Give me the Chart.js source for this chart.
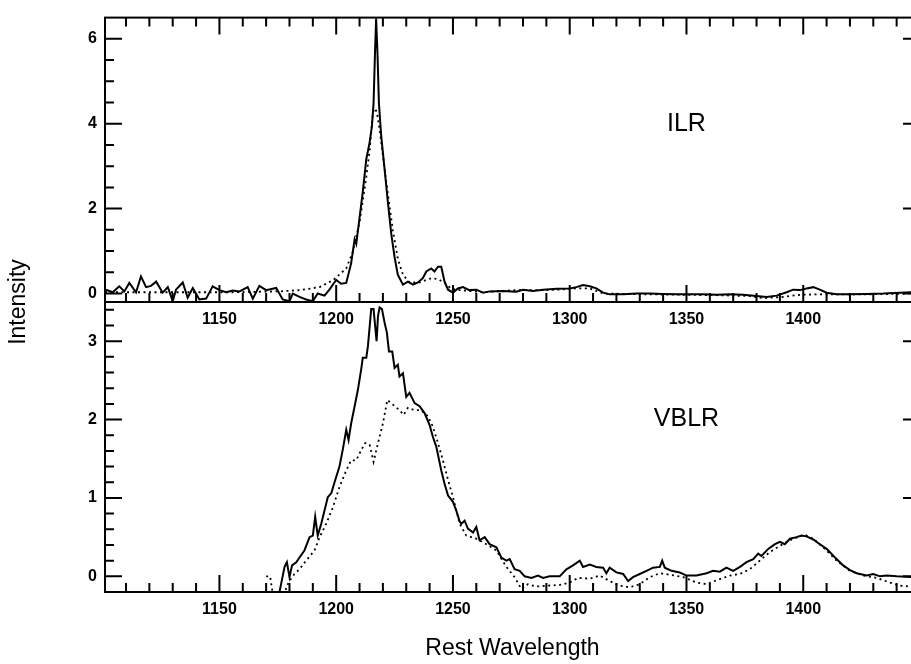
<!DOCTYPE html>
<html><head><meta charset="utf-8">
<script src="https://cdn.jsdelivr.net/npm/chart.js@4"></script>
<style>
html,body{margin:0;padding:0;background:#fff;width:911px;height:664px;overflow:hidden;}
#wrap{position:relative;width:911px;height:664px;overflow:hidden;background:#fff;}
canvas{position:absolute;left:0;top:0;}
</style></head><body>
<div id="wrap">
<canvas id="bot" width="940" height="664"></canvas>
<canvas id="top" width="940" height="340"></canvas>
</div>
<script>
// ---------- data ----------
const xTickLabels = [1150, 1200, 1250, 1300, 1350, 1400];
const ilrYTicks = [0, 2, 4, 6];
const vblrYTicks = [0, 1, 2, 3];

// ILR panel, observed (solid)
const ilrObsWave = [1101.4,1104.3,1107.1,1109.3,1111.4,1114.3,1116.4,1118.6,1120.7,1122.9,1125.7,1127.9,1130.0,1131.4,1134.3,1136.4,1138.6,1141.4,1144.3,1147.1,1150.0,1152.9,1155.7,1158.6,1162.1,1164.3,1167.1,1170.0,1174.3,1177.1,1180.0,1181.4,1184.3,1187.1,1190.0,1192.1,1195.0,1197.1,1200.0,1202.1,1204.3,1206.4,1207.9,1208.6,1210.0,1211.4,1212.9,1214.3,1215.3,1216.0,1216.6,1217.1,1217.7,1218.3,1219.3,1220.7,1222.1,1223.6,1225.0,1226.4,1228.6,1230.7,1232.9,1235.0,1237.1,1238.6,1240.7,1242.1,1243.6,1245.0,1246.4,1247.9,1250.0,1252.1,1254.3,1257.0,1260.0,1262.9,1265.7,1271.4,1277.1,1280.0,1284.3,1288.6,1294.3,1300.0,1302.9,1305.7,1308.6,1311.4,1314.3,1317.1,1322.9,1328.6,1334.3,1340.0,1345.7,1351.4,1357.1,1362.9,1368.6,1374.3,1380.0,1384.3,1388.6,1392.9,1395.7,1398.6,1401.4,1404.3,1407.1,1410.0,1414.3,1420.0,1427.1,1434.3,1441.4,1446.1,1450.0];
const ilrObs = [0.09,0.03,0.17,0.05,0.25,0.03,0.40,0.15,0.18,0.28,0.02,0.15,-0.18,0.09,0.26,-0.10,0.13,-0.14,-0.12,0.17,0.08,0.03,0.07,0.05,0.15,-0.12,0.18,0.08,0.13,-0.14,-0.18,0.00,-0.08,-0.14,-0.18,0.00,-0.05,0.09,0.32,0.23,0.25,0.71,1.28,1.17,1.78,2.40,3.17,3.55,3.94,4.48,5.63,6.48,5.63,4.48,3.70,2.94,2.17,1.40,0.86,0.44,0.21,0.28,0.21,0.26,0.36,0.52,0.59,0.52,0.63,0.63,0.28,0.09,0.02,0.12,0.15,0.08,0.09,0.02,0.05,0.06,0.04,0.09,0.06,0.09,0.11,0.12,0.15,0.20,0.17,0.12,0.02,-0.02,-0.02,0.00,0.00,-0.01,-0.02,-0.02,-0.02,-0.03,-0.02,-0.03,-0.06,-0.08,-0.05,0.03,0.09,0.08,0.12,0.15,0.09,0.02,-0.02,-0.02,-0.01,0.00,0.02,0.03,0.03];

// ILR panel, model (dotted)
const ilrModWave = [1101.0,1127.1,1155.7,1175.7,1184.3,1192.9,1198.6,1204.3,1207.1,1210.0,1212.9,1214.3,1215.7,1216.4,1217.4,1218.6,1220.0,1222.1,1224.3,1226.4,1228.6,1231.4,1235.7,1238.6,1240.7,1243.6,1246.4,1249.3,1252.9,1262.9,1277.1,1291.4,1302.9,1308.6,1314.3,1334.3,1348.6,1362.9,1377.1,1382.9,1391.4,1398.6,1405.7,1412.9,1427.1,1450.0];
const ilrMod = [0.03,0.03,0.03,0.05,0.08,0.15,0.31,0.59,0.98,1.67,2.75,3.36,4.25,4.36,4.28,3.86,3.25,2.36,1.48,0.82,0.44,0.26,0.26,0.32,0.36,0.34,0.25,0.11,0.08,0.03,0.08,0.08,0.12,0.12,0.00,-0.02,-0.03,-0.04,-0.06,-0.11,-0.08,-0.03,-0.02,-0.02,-0.02,0.00];

// VBLR panel, observed (solid)
const vblrObsWave = [1175.0,1176.4,1177.9,1178.9,1180.0,1181.1,1182.9,1184.3,1186.4,1188.6,1190.0,1191.0,1192.1,1193.6,1195.0,1196.4,1197.9,1199.3,1201.4,1202.9,1204.3,1205.3,1206.4,1207.9,1209.3,1210.7,1211.4,1212.9,1213.6,1215.0,1216.0,1216.7,1217.3,1217.9,1218.6,1219.6,1220.7,1221.7,1222.6,1224.0,1225.0,1226.4,1227.1,1228.6,1230.0,1231.4,1233.6,1235.7,1237.9,1240.0,1241.4,1242.9,1245.0,1246.4,1247.9,1250.0,1251.4,1252.9,1253.6,1255.0,1256.4,1258.6,1260.0,1261.4,1263.6,1265.7,1268.6,1270.7,1272.9,1274.3,1276.4,1278.6,1280.7,1283.6,1286.4,1288.6,1291.4,1295.7,1298.6,1301.4,1304.3,1305.7,1308.6,1311.4,1314.3,1315.7,1317.1,1320.0,1322.9,1325.0,1327.1,1330.0,1332.9,1335.7,1338.6,1339.6,1340.7,1343.6,1347.1,1350.0,1354.3,1358.6,1361.4,1364.3,1367.1,1370.0,1372.9,1375.7,1378.6,1380.7,1382.1,1385.0,1387.9,1390.0,1392.1,1394.3,1397.1,1399.3,1401.4,1404.3,1407.1,1410.0,1414.3,1417.1,1420.0,1422.9,1427.1,1430.0,1432.9,1435.7,1440.0,1446.1,1450.0];
const vblrObs = [-0.30,-0.10,0.12,0.18,-0.01,0.14,0.18,0.24,0.33,0.50,0.52,0.76,0.52,0.67,0.84,1.01,1.06,1.20,1.40,1.63,1.87,1.74,1.95,2.17,2.38,2.64,2.79,2.79,2.94,3.41,3.41,3.19,3.00,3.32,3.43,3.41,3.24,3.11,2.87,2.87,2.66,2.70,2.55,2.59,2.29,2.34,2.21,2.17,2.08,1.93,1.78,1.65,1.35,1.18,1.03,0.95,0.84,0.70,0.67,0.71,0.61,0.56,0.63,0.46,0.50,0.41,0.37,0.24,0.20,0.22,0.09,0.07,0.00,-0.02,0.01,-0.02,0.00,0.00,0.09,0.14,0.20,0.12,0.15,0.12,0.11,0.04,0.11,0.05,0.03,-0.06,-0.01,0.03,0.07,0.11,0.12,0.20,0.11,0.07,0.05,0.01,0.01,0.04,0.07,0.06,0.11,0.07,0.12,0.18,0.22,0.29,0.26,0.35,0.41,0.44,0.41,0.48,0.50,0.52,0.51,0.47,0.41,0.35,0.22,0.14,0.08,0.04,0.01,0.03,0.00,0.01,0.00,-0.01,-0.01];

// VBLR panel, model (dotted)
const vblrModWave = [1170.0,1171.7,1173.5,1177.5,1178.6,1180.0,1182.1,1184.3,1187.1,1190.7,1192.9,1195.7,1198.6,1201.4,1204.3,1206.4,1208.6,1210.7,1212.4,1214.3,1216.0,1217.9,1220.0,1221.9,1224.3,1227.1,1228.9,1230.7,1233.6,1236.4,1239.3,1241.4,1243.6,1245.7,1247.9,1250.0,1252.9,1255.7,1260.0,1264.3,1268.6,1272.9,1276.4,1279.3,1282.1,1285.7,1290.0,1295.7,1300.0,1303.6,1308.6,1312.9,1317.1,1321.4,1325.7,1330.0,1334.3,1338.6,1342.9,1348.6,1354.3,1358.6,1362.9,1368.6,1372.9,1377.1,1381.4,1385.7,1390.0,1394.3,1398.6,1400.7,1404.3,1408.6,1414.3,1420.0,1425.7,1431.4,1437.1,1441.4,1446.1,1450.0];
const vblrMod = [0.00,0.00,-0.35,-0.35,-0.14,-0.06,0.03,0.09,0.20,0.33,0.50,0.67,0.88,1.14,1.35,1.48,1.48,1.61,1.70,1.68,1.46,1.70,1.95,2.25,2.19,2.12,2.06,2.15,2.12,2.12,2.04,1.91,1.70,1.48,1.23,1.01,0.67,0.52,0.48,0.41,0.33,0.12,-0.01,-0.16,-0.10,-0.13,-0.12,-0.11,-0.08,-0.02,-0.03,0.01,-0.06,-0.12,-0.14,-0.10,-0.01,0.04,0.02,-0.01,-0.08,-0.10,-0.05,0.01,0.03,0.09,0.20,0.31,0.39,0.46,0.51,0.53,0.48,0.37,0.20,0.07,0.01,-0.02,-0.08,-0.12,-0.13,-0.13];

const xMin = 1101, xMax = 1450;

// ---------- helpers ----------
const pts = (w, v) => w.map((x, i) => ({x: x, y: v[i]}));
const FONT = '"Liberation Sans", Arial, Helvetica, sans-serif';

const frameTicks = {
  id: 'frameTicks',
  afterDatasetsDraw(chart, args, o) {
    const {ctx, chartArea: a} = chart;
    const x = chart.scales.x, y = chart.scales.y;
    ctx.save();
    ctx.strokeStyle = '#000';
    ctx.lineWidth = 2;
    ctx.strokeRect(a.left, a.top, a.right - a.left, a.bottom - a.top);
    ctx.beginPath();
    const kx0 = Math.ceil(x.min / o.xStep), kx1 = Math.floor(x.max / o.xStep);
    for (let k = kx0; k <= kx1; k++) {
      const v = k * o.xStep;
      const px = x.getPixelForValue(v);
      const len = (v % o.xMajor === 0) ? o.major : o.minor;
      if (o.bottom) { ctx.moveTo(px, a.bottom); ctx.lineTo(px, a.bottom - len); }
      if (o.top) { ctx.moveTo(px, a.top); ctx.lineTo(px, a.top + len); }
    }
    const ky0 = Math.ceil(y.min / o.yStep - 1e-6), ky1 = Math.floor(y.max / o.yStep + 1e-6);
    const per = Math.round(o.yMajor / o.yStep);
    for (let k = ky0; k <= ky1; k++) {
      const v = k * o.yStep;
      if (Math.abs(v - y.min) < 1e-6 || Math.abs(v - y.max) < 1e-6) continue;
      const py = y.getPixelForValue(v);
      const len = (k % per === 0) ? o.major : o.minor;
      ctx.moveTo(a.left, py); ctx.lineTo(a.left + len, py);
      ctx.moveTo(a.right, py); ctx.lineTo(a.right - len, py);
    }
    ctx.stroke();
    ctx.restore();
  }
};

const panelText = {
  id: 'panelText',
  afterDraw(chart, args, o) {
    const {ctx, chartArea: a} = chart;
    const x = chart.scales.x, y = chart.scales.y;
    ctx.save();
    ctx.fillStyle = '#000';
    ctx.textAlign = 'center';
    ctx.textBaseline = 'middle';
    (o.items || []).forEach(it => {
      ctx.save();
      ctx.font = it.font;
      let px, py;
      if (it.data) { px = x.getPixelForValue(it.data[0]); py = y.getPixelForValue(it.data[1]); }
      else { px = it.px === 'center' ? (a.left + a.right) / 2 : it.px; py = it.py; }
      ctx.translate(px, py);
      if (it.rot) ctx.rotate(it.rot);
      ctx.fillText(it.text, 0, 0);
      ctx.restore();
    });
    ctx.restore();
  }
};

function panel(canvasId, cfg) {
  const tickFont = {family: FONT, size: 16, weight: 'bold'};
  return new Chart(document.getElementById(canvasId), {
    type: 'line',
    data: {datasets: [
      {data: cfg.solid, borderColor: '#000', borderWidth: 2, pointRadius: 0, tension: 0, fill: false},
      {data: cfg.dotted, borderColor: '#000', borderWidth: 1.8, borderDash: [2, 3.5], pointRadius: 0, tension: 0, fill: false}
    ]},
    options: {
      responsive: false, animation: false, devicePixelRatio: 1,
      layout: {padding: {top: cfg.padTop, right: 20, left: 0, bottom: 0}},
      plugins: {legend: {display: false}, tooltip: {enabled: false},
        frameTicks: cfg.ticks, panelText: {items: cfg.texts}},
      scales: {
        x: {type: 'linear', min: xMin, max: xMax,
          grid: {display: false, drawTicks: false}, border: {display: false},
          afterBuildTicks: s => { s.ticks = xTickLabels.map(v => ({value: v})); },
          afterFit: s => { s.height = cfg.xHeight; },
          ticks: {font: tickFont, color: '#000', padding: 8, maxRotation: 0, autoSkip: false, callback: v => String(v)}},
        y: {type: 'linear', min: cfg.yMin, max: cfg.yMax,
          grid: {display: false, drawTicks: false}, border: {display: false},
          afterBuildTicks: s => { s.ticks = cfg.yTicks.map(v => ({value: v})); },
          afterFit: s => { s.width = 105; },
          ticks: {font: tickFont, color: '#000', padding: 8, callback: v => String(v)}}
      }
    },
    plugins: [frameTicks, panelText]
  });
}

panel('bot', {
  solid: pts(vblrObsWave, vblrObs), dotted: pts(vblrModWave, vblrMod),
  padTop: 302, xHeight: 72, yMin: -0.2, yMax: 3.5, yTicks: vblrYTicks,
  ticks: {xStep: 10, xMajor: 50, yStep: 0.2, yMajor: 1, major: 17, minor: 9, bottom: true, top: false},
  texts: [
    {text: 'VBLR', data: [1350, 2], font: '25px ' + FONT},
    {text: 'Rest Wavelength', px: 'center', py: 649, font: '23px ' + FONT},
    {text: 'Intensity', px: 19, py: 302, rot: -Math.PI / 2, font: '23px ' + FONT}
  ]
});

panel('top', {
  solid: pts(ilrObsWave, ilrObs), dotted: pts(ilrModWave, ilrMod),
  padTop: 12, xHeight: 38, yMin: -0.2, yMax: 6.5, yTicks: ilrYTicks,
  ticks: {xStep: 10, xMajor: 50, yStep: 0.5, yMajor: 2, major: 17, minor: 9, bottom: true, top: true},
  texts: [
    {text: 'ILR', data: [1350, 4], font: '25px ' + FONT}
  ]
});
</script>
</body></html>
